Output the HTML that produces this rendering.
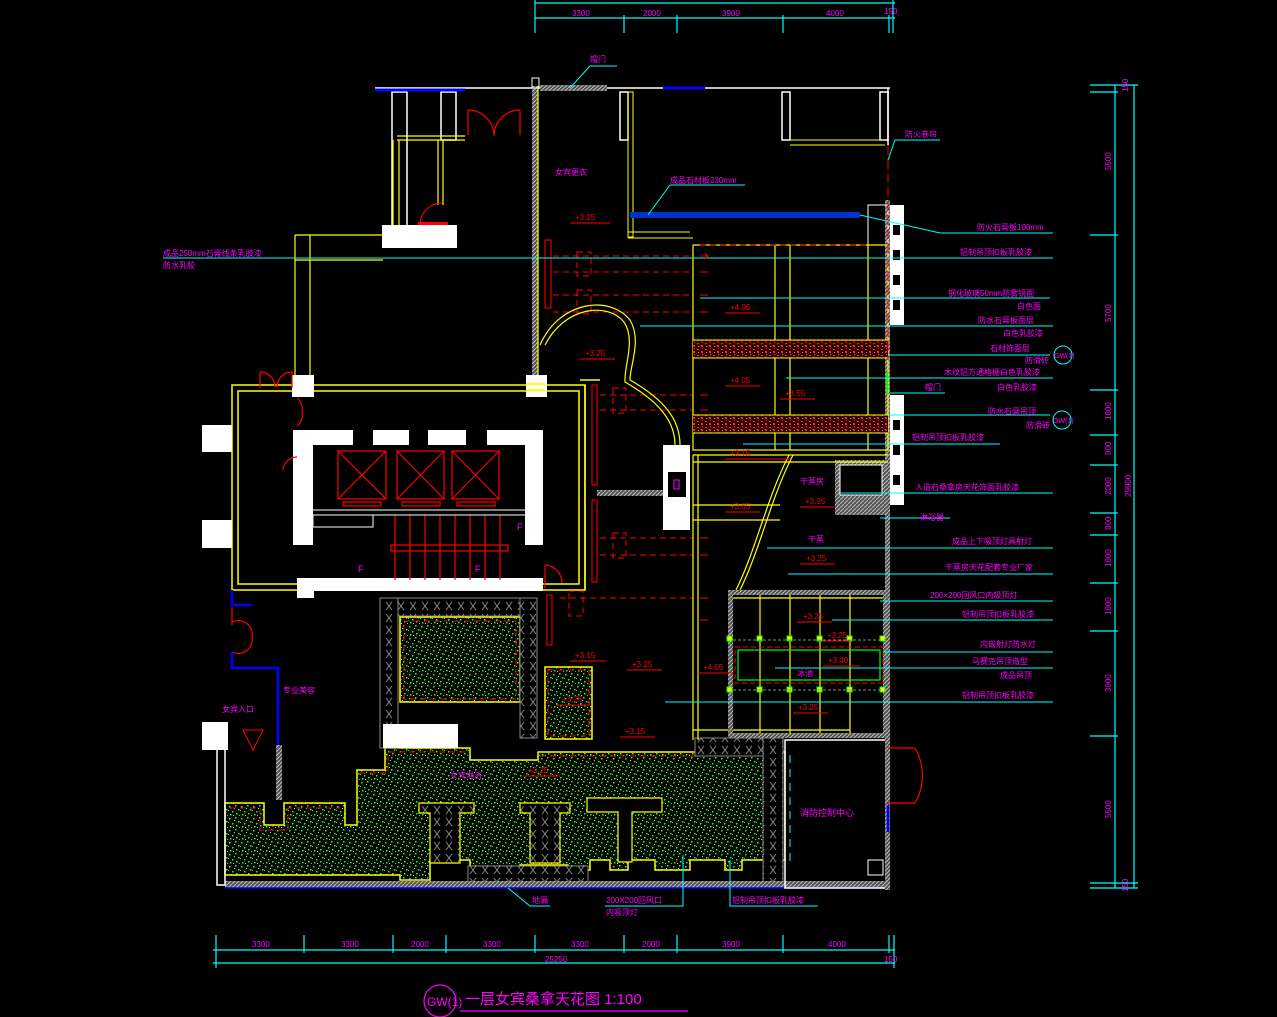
<!DOCTYPE html>
<html><head><meta charset="utf-8"><style>
html,body{margin:0;padding:0;background:#000;}
svg{display:block;}
text{font-family:"Liberation Sans","Noto Sans CJK SC",sans-serif;}
</style></head><body>
<svg width="1277" height="1017" viewBox="0 0 1277 1017" xmlns="http://www.w3.org/2000/svg">
<defs>
<pattern id="g" width="12" height="12" patternUnits="userSpaceOnUse">
<rect width="12" height="12" fill="#000"/>
<rect x="1" y="2" width="1.5" height="1.5" fill="#2f2"/><rect x="7" y="1" width="1.5" height="1.5" fill="#2f2"/>
<rect x="10" y="5" width="1.5" height="1.5" fill="#2f2"/><rect x="4" y="7" width="1.5" height="1.5" fill="#2f2"/>
<rect x="8" y="9" width="1.5" height="1.5" fill="#2f2"/><rect x="2" y="10" width="1.5" height="1.5" fill="#2f2"/>
<rect x="6" y="4" width="1" height="1" fill="#8f8"/><rect x="11" y="11" width="1" height="1" fill="#2f2"/>
<rect x="0" y="6" width="1" height="1" fill="#2f2"/><rect x="5" y="11" width="1" height="1" fill="#8f8"/>
</pattern>
<pattern id="h" width="4" height="4" patternUnits="userSpaceOnUse">
<rect width="4" height="4" fill="#555"/><path d="M0 4L4 0" stroke="#bbb" stroke-width="1"/>
</pattern>
<pattern id="x" width="12" height="12" patternUnits="userSpaceOnUse">
<rect width="12" height="12" fill="#000"/><path d="M2 2L8 10M8 2L2 10" stroke="#888" stroke-width="1"/>
</pattern>
<pattern id="r" width="8" height="6" patternUnits="userSpaceOnUse">
<rect width="8" height="6" fill="#300"/><rect x="1" y="1" width="2" height="1" fill="#f22"/><rect x="5" y="3" width="2" height="2" fill="#f22"/><rect x="2" y="4" width="1" height="1" fill="#999"/><rect x="6" y="0" width="1" height="1" fill="#f44"/>
</pattern>
</defs>
<rect width="1277" height="1017" fill="#000"/>

<!-- top dims -->
<g stroke="#0ff" stroke-width="1.2" fill="none">
<line x1="535" y1="3" x2="895" y2="3"/><line x1="535" y1="18" x2="895" y2="18"/>
<line x1="535" y1="0" x2="535" y2="33"/><line x1="624" y1="15" x2="624" y2="33"/><line x1="677" y1="15" x2="677" y2="33"/>
<line x1="783" y1="15" x2="783" y2="33"/><line x1="889" y1="15" x2="889" y2="33"/><line x1="893" y1="0" x2="893" y2="33"/>
</g>
<g fill="#f0f" font-size="8"><text x="572" y="16">3300</text><text x="643" y="16">2000</text><text x="722" y="16">3900</text><text x="826" y="16">4000</text><text x="884" y="14">150</text></g>

<!-- bottom dims -->
<g stroke="#0ff" stroke-width="1.2" fill="none">
<line x1="213" y1="950" x2="895" y2="950"/><line x1="213" y1="963" x2="895" y2="963"/>
<line x1="216" y1="935" x2="216" y2="968"/><line x1="304" y1="935" x2="304" y2="953"/><line x1="393" y1="935" x2="393" y2="953"/>
<line x1="446" y1="935" x2="446" y2="953"/><line x1="535" y1="935" x2="535" y2="953"/><line x1="624" y1="935" x2="624" y2="953"/>
<line x1="677" y1="935" x2="677" y2="953"/><line x1="783" y1="935" x2="783" y2="953"/><line x1="889" y1="935" x2="889" y2="953"/><line x1="894" y1="935" x2="894" y2="968"/>
</g>
<g fill="#f0f" font-size="8"><text x="252" y="947">3300</text><text x="341" y="947">3300</text><text x="411" y="947">2000</text><text x="483" y="947">3300</text><text x="571" y="947">3300</text><text x="642" y="947">2000</text><text x="722" y="947">3900</text><text x="828" y="947">4000</text><text x="545" y="962">25250</text><text x="884" y="962">150</text></g>

<!-- right dims -->
<g stroke="#0ff" stroke-width="1.2" fill="none">
<line x1="1115" y1="85" x2="1115" y2="888"/><line x1="1134" y1="85" x2="1134" y2="888"/>
<line x1="1090" y1="85" x2="1138" y2="85"/><line x1="1090" y1="92" x2="1118" y2="92"/><line x1="1090" y1="235" x2="1118" y2="235"/>
<line x1="1090" y1="390" x2="1118" y2="390"/><line x1="1090" y1="435" x2="1118" y2="435"/><line x1="1090" y1="465" x2="1118" y2="465"/>
<line x1="1090" y1="513" x2="1118" y2="513"/><line x1="1090" y1="535" x2="1118" y2="535"/><line x1="1090" y1="583" x2="1118" y2="583"/>
<line x1="1090" y1="631" x2="1118" y2="631"/><line x1="1090" y1="736" x2="1118" y2="736"/><line x1="1090" y1="883" x2="1138" y2="883"/><line x1="1090" y1="888" x2="1138" y2="888"/>
</g>
<g fill="#f0f" font-size="8">
<text transform="translate(1111,170) rotate(-90)">5500</text><text transform="translate(1111,322) rotate(-90)">5700</text>
<text transform="translate(1111,420) rotate(-90)">1800</text><text transform="translate(1111,455) rotate(-90)">800</text>
<text transform="translate(1111,495) rotate(-90)">2000</text><text transform="translate(1111,530) rotate(-90)">800</text>
<text transform="translate(1111,567) rotate(-90)">1800</text><text transform="translate(1111,615) rotate(-90)">1800</text>
<text transform="translate(1111,692) rotate(-90)">3900</text><text transform="translate(1111,818) rotate(-90)">5500</text>
<text transform="translate(1131,497) rotate(-90)">29900</text><text transform="translate(1128,92) rotate(-90)">150</text><text transform="translate(1128,892) rotate(-90)">150</text>
</g>

<!-- title -->
<ellipse cx="440" cy="1001" rx="16" ry="16" stroke="#f0f" fill="none" stroke-width="1.2"/>
<text x="427" y="1006" fill="#f0f" font-size="12">GW(1)</text>
<text x="465" y="1004" fill="#f0f" font-size="15">一层女宾桑拿天花图 1:100</text>
<line x1="460" y1="1011" x2="688" y2="1011" stroke="#f0f" stroke-width="1.2"/>

<!-- green floor zones -->
<g fill="url(#g)" stroke="#ff0" stroke-width="1.5">
<rect x="400" y="617" width="120" height="85"/>
<rect x="545" y="667" width="47" height="72"/>
<path d="M225 803 L264 803 L264 825 L284 825 L284 803 L345 803 L345 825 L357 825 L357 770 L385 770 L385 748 L470 748 L470 760 L538 760 L538 752 L785 752 L785 860 L742 860 L742 870 L725 870 L725 860 L690 860 L690 870 L655 870 L655 860 L628 860 L628 870 L610 870 L610 860 L590 860 L590 870 L568 870 L568 865 L520 865 L520 870 L470 870 L470 860 L430 860 L430 880 L400 880 L400 875 L225 875 Z"/>
</g>
<g fill="#000" stroke="#ff0" stroke-width="1.2">
<path d="M419 803 h55 v10 h-14 v50 h-30 v-50 h-11 z" fill="url(#x)"/>
<path d="M520 803 h50 v10 h-10 v50 h-30 v-50 h-10 z" fill="url(#x)"/>
<path d="M587 798 h75 v14 h-30 v50 h-14 v-50 h-31 z"/>
</g>
<g stroke="#f00" stroke-dasharray="6 4" fill="none" stroke-width="1">
<rect x="404" y="621" width="112" height="78"/><rect x="548" y="670" width="41" height="66"/>
<path d="M230 808 H260 V830 H288 V808 H340 M360 773 H388 V752 H466 M540 756 H780"/>
</g>

<!-- hatched walls lower -->
<g fill="url(#x)" stroke="#888" stroke-width="1">
<rect x="380" y="598" width="148" height="18"/>
<rect x="380" y="598" width="18" height="150"/>
<rect x="520" y="598" width="17" height="140"/>
<rect x="695" y="738" width="88" height="18"/>
<rect x="763" y="738" width="20" height="150"/>
<rect x="468" y="866" width="120" height="18"/>
</g>
<rect x="383" y="724" width="75" height="24" fill="#fff"/>
<rect x="225" y="881" width="665" height="7" fill="url(#h)"/>
<line x1="225" y1="888" x2="890" y2="888" stroke="#00f" stroke-width="1.5"/>

<!-- structural outline -->
<g stroke="#fff" stroke-width="1.5" fill="none">
<line x1="375" y1="88" x2="890" y2="88"/>
<rect x="392" y="92" width="15" height="140"/><rect x="441" y="92" width="15" height="48"/>
<rect x="782" y="92" width="8" height="48"/><rect x="880" y="92" width="8" height="48"/>
<rect x="620" y="92" width="8" height="48"/>
<line x1="888" y1="88" x2="888" y2="145"/>
<rect x="217" y="745" width="8" height="140"/>
<rect x="785" y="740" width="104" height="148"/>
</g>
<path d="M790 140 H885 M790 145 H885" stroke="#ff0" stroke-width="1"/>
<line x1="375" y1="90" x2="465" y2="90" stroke="#00f" stroke-width="3"/>
<line x1="663" y1="88" x2="705" y2="88" stroke="#00f" stroke-width="3"/>
<rect x="540" y="85" width="67" height="6" fill="url(#h)"/>
<rect x="532" y="86" width="6" height="290" fill="url(#h)"/>
<line x1="538" y1="86" x2="538" y2="376" stroke="#ff0" stroke-width="1.2"/>
<rect x="532" y="78" width="7" height="10" fill="none" stroke="#fff"/>
<rect x="888" y="205" width="16" height="120" fill="#fff"/><rect x="888" y="395" width="16" height="110" fill="#fff"/>
<rect x="885" y="200" width="5" height="690" fill="url(#h)"/>
<g fill="#000"><rect x="893" y="225" width="7" height="10"/><rect x="893" y="250" width="7" height="10"/><rect x="893" y="275" width="7" height="10"/><rect x="893" y="300" width="7" height="10"/><rect x="893" y="420" width="7" height="10"/><rect x="893" y="445" width="7" height="10"/><rect x="893" y="475" width="7" height="10"/></g>
<rect x="868" y="205" width="20" height="40" fill="none" stroke="#fff"/>
<rect x="835" y="460" width="50" height="55" fill="url(#h)"/><rect x="840" y="465" width="42" height="30" fill="#000" stroke="#fff"/>

<!-- upper left wing -->
<g stroke="#ff0" stroke-width="1.2" fill="none">
<path d="M397 140 H465 M397 136 H465"/><path d="M393 140 V230 M399 140 V225"/><path d="M438 140 V205 M443 140 V205"/>
<path d="M295 235 V375 M310 235 V375 M295 235 H383 M295 260 H383 M310 260 H300"/>
</g>
<rect x="382" y="225" width="75" height="23" fill="#fff"/>
<path d="M420 225 A22 22 0 0 1 442 203" stroke="#f00" fill="none"/><rect x="418" y="222" width="30" height="3" fill="#f00"/>
<path d="M468 110 V135 M520 110 V135 M468 110 A26 26 0 0 1 494 136 M520 110 A26 26 0 0 0 494 136" stroke="#f00" fill="none" stroke-width="1.2"/>

<!-- lobby -->
<g stroke="#ff0" stroke-width="1.5" fill="none">
<rect x="232" y="385" width="353" height="205"/><rect x="238" y="391" width="341" height="193"/>
<path d="M585 385 V590 M580 380 H600"/>
</g>
<g fill="#fff">
<rect x="202" y="425" width="30" height="27"/><rect x="202" y="520" width="30" height="28"/>
<rect x="292" y="375" width="22" height="22"/><rect x="526" y="375" width="21" height="22"/>
<rect x="297" y="578" width="17" height="20"/>
<rect x="293" y="430" width="20" height="115"/><rect x="525" y="430" width="18" height="115"/>
<rect x="293" y="430" width="60" height="15"/><rect x="373" y="430" width="36" height="15"/><rect x="428" y="430" width="38" height="15"/><rect x="487" y="430" width="56" height="15"/>
<rect x="313" y="578" width="230" height="13"/>
</g>
<rect x="526" y="383" width="19" height="2" fill="#ff0"/><rect x="526" y="389" width="19" height="2" fill="#ff0"/>
<g stroke="#f00" stroke-width="1.2" fill="none">
<rect x="338" y="451" width="48" height="48"/><path d="M338 451L386 499M386 451L338 499"/>
<rect x="397" y="451" width="47" height="48"/><path d="M397 451L444 499M444 451L397 499"/>
<rect x="452" y="451" width="47" height="48"/><path d="M452 451L499 499M499 451L452 499"/>
<rect x="343" y="502" width="38" height="4"/><rect x="402" y="502" width="38" height="4"/><rect x="457" y="502" width="38" height="4"/>
<rect x="391" y="545" width="117" height="6"/>
<path d="M395 515 V580 M410 515 V580 M425 515 V580 M440 515 V580 M455 515 V580 M470 515 V580 M485 515 V580 M500 515 V580"/>
<path d="M260 372 V388 M292 372 V388 M260 372 A15 15 0 0 1 275 387 M292 372 A15 15 0 0 0 277 387"/>
<path d="M297 398 A14 14 0 0 1 302 412 A14 14 0 0 1 297 426"/>
<path d="M283 470 A14 14 0 0 1 297 457"/>
<path d="M545 565 A18 18 0 0 1 562 583 M545 565 V588"/>
<path d="M232 607 V625 M232 652 V668 M232 622 A14 14 0 0 1 252 637 A14 14 0 0 1 232 652"/>
</g>
<line x1="313" y1="510" x2="525" y2="510" stroke="#fff"/><line x1="313" y1="515" x2="525" y2="515" stroke="#fff"/>
<rect x="313" y="515" width="60" height="12" fill="none" stroke="#fff"/>
<g fill="#f0f" font-size="9"><text x="517" y="530">F</text><text x="358" y="572">F</text><text x="475" y="572">F</text></g>
<path d="M232 590 V605 H252 M232 652 V668 H278 V745" stroke="#00f" stroke-width="2.5" fill="none"/>
<rect x="276" y="745" width="6" height="55" fill="url(#h)"/>
<rect x="202" y="722" width="26" height="28" fill="#fff"/>
<path d="M243 730 H263 L253 750 Z" stroke="#f00" fill="none"/>

<!-- middle corridor -->
<g stroke="#f00" stroke-width="1" fill="none">
<rect x="545" y="240" width="6" height="68"/><rect x="592" y="385" width="5" height="100"/><rect x="592" y="500" width="5" height="82"/><rect x="547" y="595" width="5" height="50"/>
</g>
<g stroke="#f00" stroke-dasharray="6 4" fill="none" stroke-width="1">
<path d="M553 256 H693 M553 272 H693 M553 295 H693 M553 312 H693 M600 395 H693 M600 410 H693 M600 538 H693 M600 555 H693 M560 598 H693"/>
<rect x="577" y="252" width="14" height="24"/><rect x="577" y="290" width="14" height="24"/><rect x="613" y="388" width="13" height="25"/><rect x="613" y="533" width="13" height="25"/><rect x="569" y="591" width="14" height="25"/>
</g>
<path d="M540 345 C560 300 610 295 630 320 C642 340 630 365 630 380 C665 400 680 420 680 445" stroke="#ff0" stroke-width="1.2" fill="none"/>
<path d="M545 345 C565 306 608 302 624 322 C636 340 624 365 625 382 C660 402 675 422 675 445" stroke="#ff0" stroke-width="1.2" fill="none"/>
<rect x="663" y="445" width="27" height="85" fill="#fff"/><rect x="668" y="472" width="18" height="25" fill="#000"/><rect x="674" y="480" width="5" height="9" stroke="#f0f" fill="none"/>
<rect x="597" y="490" width="66" height="6" fill="url(#h)"/>
<rect x="628" y="92" width="5" height="145" fill="none" stroke="#ff0"/>
<path d="M628 238 H693 M628 232 H690" stroke="#ff0"/>
<rect x="630" y="212" width="230" height="6" fill="#0033cc"/>

<!-- right block grid -->
<g stroke="#ff0" stroke-width="1.2" fill="none">
<rect x="693" y="245" width="195" height="205"/><path d="M775 245 V450 M790 245 V450 M868 245 V450"/>
<path d="M693 455 H888 M693 462 H888 M693 505 H780 M693 520 H780 M693 730 H728 M693 455 V740 M698 455 V740"/>
<path d="M793 455 C770 500 760 550 740 590 M789 455 C766 500 756 550 736 590"/>
</g>
<rect x="693" y="340" width="195" height="18" fill="url(#r)"/><rect x="693" y="415" width="195" height="18" fill="url(#r)"/>
<path d="M693 340 H888 M693 358 H888 M693 415 H888 M693 433 H888" stroke="#ff0"/>
<path d="M700 245 H870" stroke="#f00" stroke-dasharray="6 4"/>
<path d="M888 145 V360" stroke="#f00" stroke-dasharray="10 4"/>
<rect x="886" y="372" width="2" height="22" fill="#0f0"/>

<rect x="728" y="590" width="160" height="148" fill="url(#h)"/><rect x="733" y="595" width="150" height="138" fill="#000"/>
<g stroke="#ff0" stroke-width="1.2" fill="none">
<path d="M733 598 H883 M760 595 V733 M790 595 V733 M820 595 V733 M850 595 V733 M733 730 H850"/>
</g>
<rect x="738" y="650" width="142" height="30" stroke="#0f0" fill="none" stroke-width="1.2"/>
<rect x="735" y="647" width="148" height="36" stroke="#f00" fill="none" stroke-dasharray="5 3"/>
<g fill="#ff0" stroke="#0f0"><rect x="757" y="636" width="5" height="5"/><rect x="787" y="636" width="5" height="5"/><rect x="817" y="636" width="5" height="5"/><rect x="847" y="636" width="5" height="5"/><rect x="880" y="636" width="5" height="5"/><rect x="727" y="636" width="5" height="5"/>
<rect x="757" y="687" width="5" height="5"/><rect x="787" y="687" width="5" height="5"/><rect x="817" y="687" width="5" height="5"/><rect x="847" y="687" width="5" height="5"/><rect x="880" y="687" width="5" height="5"/><rect x="727" y="687" width="5" height="5"/></g>
<path d="M733 640 H883 M733 690 H883" stroke="#888" stroke-dasharray="3 2"/>

<!-- fire room -->
<path d="M888 748 H915 M915 748 A55 55 0 0 1 915 803 M888 803 H915" stroke="#f00" fill="none" stroke-width="1.2"/>
<line x1="888" y1="805" x2="888" y2="832" stroke="#00f" stroke-width="2.5"/>
<path d="M790 755 V865" stroke="#0ff" stroke-dasharray="8 6"/>
<rect x="868" y="860" width="15" height="15" fill="none" stroke="#fff"/>
<text x="800" y="816" fill="#f0f" font-size="9">消防控制中心</text>

<!-- labels & leaders -->
<g stroke="#0ff" stroke-width="1" fill="none">
<path d="M570 88 L590 66 H617"/><path d="M888 160 L895 140 H940"/>
<path d="M648 215 L670 185 H745"/>
<path d="M860 215 L940 233 H1053"/><path d="M163 258 H310 V260 M310 258 H1053"/>
<path d="M700 298 H1050"/><path d="M640 326 H1053"/><path d="M888 355 H1050"/><path d="M786 378 H1053"/>
<path d="M890 393 H945"/><path d="M888 415 H1050"/><path d="M743 444 H1000"/><path d="M840 493 H1053"/>
<path d="M880 518 H950"/><path d="M767 548 H1053"/><path d="M788 574 H1053"/><path d="M880 601 H1053"/><path d="M832 620 H1053"/>
<path d="M883 652 H1053"/><path d="M775 668 H1053"/><path d="M665 702 H1053"/>
<path d="M508 888 L530 906 H550"/><path d="M683 855 V906 H605"/><path d="M730 860 V906 H818"/>
<circle cx="1063" cy="355" r="9"/><circle cx="1062" cy="420" r="9"/>
</g>
<g fill="#f0f" font-size="8">
<text x="590" y="62">帽门</text><text x="905" y="137">防火卷帘</text><text x="670" y="183">成品石材板230mm</text>
<text x="977" y="230">防火石膏板100mm</text><text x="960" y="255">铝制吊顶扣板乳胶漆</text>
<text x="163" y="256">成品250mm石膏线条乳胶漆</text><text x="163" y="268">防水乳胶</text>
<text x="948" y="296">钢化玻璃50mm防雾镜面</text><text x="1017" y="309">白色面</text>
<text x="978" y="323">防水石膏板面层</text><text x="1003" y="336">白色乳胶漆</text>
<text x="990" y="351">石材饰面层</text><text x="1025" y="363">防滑砖</text>
<text x="944" y="375">木纹铝方通格栅白色乳胶漆</text><text x="925" y="390">帽门</text><text x="997" y="390">白色乳胶漆</text>
<text x="988" y="414">防水石膏吊顶</text><text x="1026" y="428">防滑砖</text><text x="912" y="440">铝制吊顶扣板乳胶漆</text>
<text x="915" y="490">人造石桑拿房天花饰面乳胶漆</text><text x="920" y="520">淋浴器</text>
<text x="952" y="544">成品上下吸顶灯具射灯</text><text x="945" y="570">干蒸房天花配套专业厂家</text>
<text x="930" y="598">200×200回风口内吸顶灯</text><text x="962" y="617">铝制吊顶扣板乳胶漆</text>
<text x="980" y="647">内嵌射灯防水灯</text><text x="972" y="664">马赛克吊顶造型</text><text x="1000" y="678">成品吊顶</text>
<text x="962" y="698">铝制吊顶扣板乳胶漆</text>
<text x="555" y="175">女宾更衣</text><text x="283" y="693">专业美容</text><text x="222" y="712">女宾入口</text>
<text x="450" y="778">女宾淋浴</text><text x="800" y="484">干蒸房</text><text x="808" y="542">干蒸</text><text x="797" y="676">冰池</text>
<text x="532" y="903">地漏</text><text x="606" y="903">200X200回风口</text><text x="606" y="915">内吸顶灯</text><text x="732" y="903">铝制吊顶扣板乳胶漆</text>
<text x="1054" y="358" font-size="7">GW(1)</text><text x="1053" y="423" font-size="7">GW(1)</text>
</g>
<g fill="#f00" font-size="8">
<text x="575" y="220">+3.25</text><text x="730" y="310">+4.05</text><text x="585" y="356">+3.25</text><text x="730" y="383">+4.05</text>
<text x="785" y="396">+3.55</text><text x="730" y="456">+3.15</text><text x="805" y="504">+3.25</text><text x="730" y="509">+3.65</text>
<text x="806" y="561">+3.25</text><text x="803" y="619">+3.25</text><text x="827" y="638">+3.25</text><text x="828" y="663">+3.40</text>
<text x="798" y="710">+3.25</text><text x="703" y="670">+4.05</text><text x="632" y="667">+3.25</text><text x="575" y="658">+3.15</text>
<text x="562" y="702">+3.25</text><text x="625" y="734">+3.15</text><text x="528" y="773">+3.25</text>
</g>
<g stroke="#f00" fill="none"><path d="M570 223 H610 M725 313 H760 M580 359 H615 M725 386 H760 M780 399 H815 M725 459 H790 M800 507 H835 M725 512 H760 M800 564 H835 M797 622 H832 M822 641 H850 M823 666 H860 M793 713 H828 M698 673 H733 M627 670 H662 M570 661 H605 M556 705 H590 M620 737 H655 M523 776 H560"/></g>
<g stroke="#f00" fill="none"><path d="M700 256 l8 0 m-3 -3 l3 3 l-3 3 M700 272 l8 0 M700 295 l8 0 M700 312 l8 0 M700 395 l8 0 M700 410 l8 0 M700 538 l8 0 M700 555 l8 0 M700 598 l8 0 M700 620 l8 0"/></g>
</svg>
</body></html>
